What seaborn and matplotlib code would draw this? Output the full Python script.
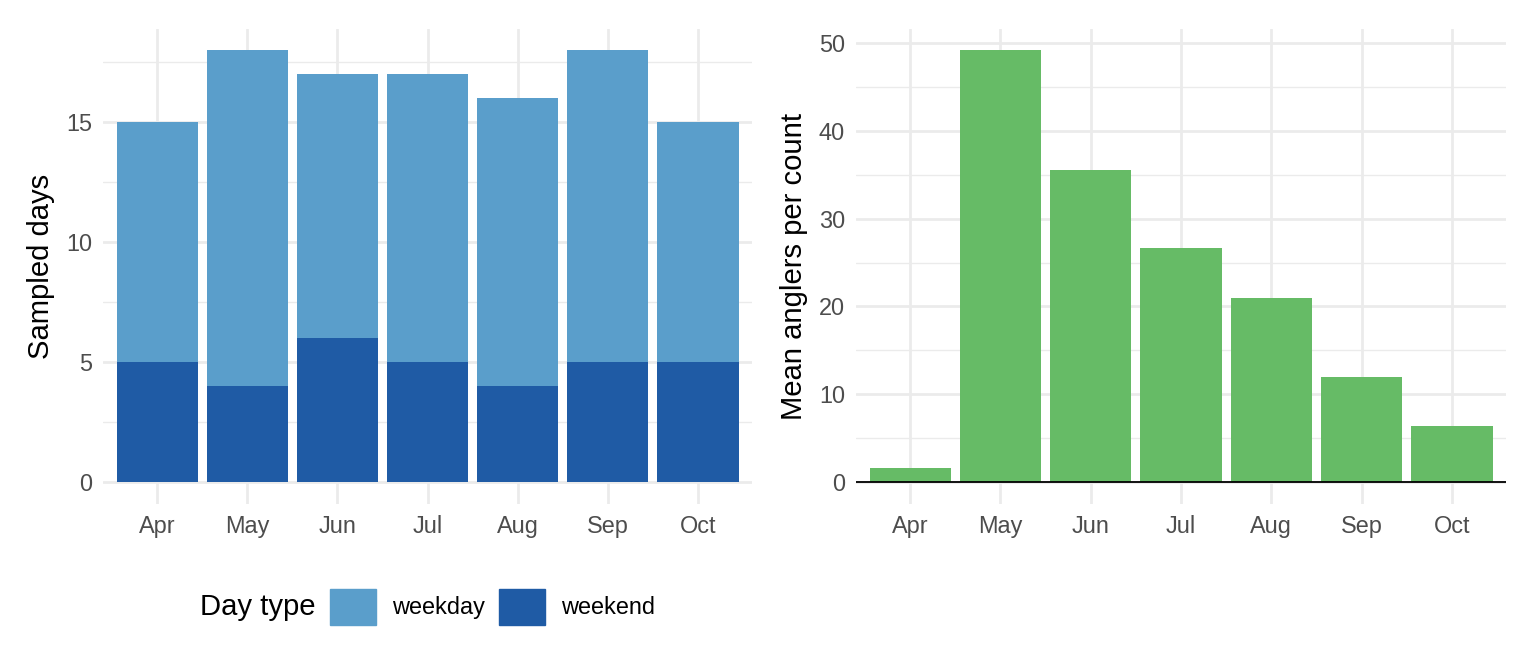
import matplotlib
matplotlib.use("Agg")
import matplotlib.pyplot as plt
import matplotlib.patches as mpatches
from matplotlib.ticker import MultipleLocator
import numpy as np
import pandas as pd
import seaborn as sns

# datos
meses = ["Apr", "May", "Jun", "Jul", "Aug", "Sep", "Oct"]
dias_semana = [10, 14, 11, 12, 12, 13, 10]
dias_finde = [5, 4, 6, 5, 4, 5, 5]
media_pescadores = [1.6, 49.2, 35.5, 26.7, 21.0, 12.0, 6.4]

col_semana = "#5A9ECB"
col_finde = "#1F5BA5"
col_verde = "#66BB66"
gris_txt = "#4D4D4D"
gris_grid = "#EBEBEB"

sns.set_theme(style="white")
plt.rcParams["font.family"] = ["Liberation Sans", "DejaVu Sans"]
plt.rcParams["text.color"] = "black"
plt.rcParams["axes.labelcolor"] = "black"

df = pd.DataFrame({
    "mes": meses,
    "weekday": dias_semana,
    "weekend": dias_finde,
    "angl": media_pescadores,
})
df["total"] = df["weekday"] + df["weekend"]

fig = plt.figure(figsize=(15.36, 6.72), dpi=100)
ax1 = fig.add_axes([0.0671, 0.2507, 0.4225, 0.7068])
ax2 = fig.add_axes([0.5573, 0.2507, 0.4232, 0.7068])


def estilo(ax, ymax, mayor, menor):
    ax.set_xlim(-0.6, 6.6)
    ax.set_ylim(-0.05 * ymax, 1.05 * ymax)
    ax.yaxis.set_major_locator(MultipleLocator(mayor))
    ax.yaxis.set_minor_locator(MultipleLocator(menor))
    ax.grid(True, which="major", color=gris_grid, linewidth=2.0, zorder=0)
    ax.grid(True, which="minor", axis="y", color=gris_grid, linewidth=1.0, zorder=0)
    ax.set_axisbelow(True)
    for s in ax.spines.values():
        s.set_visible(False)
    ax.tick_params(axis="both", which="both", length=0, labelsize=16.9,
                   labelcolor=gris_txt, pad=8)
    ax.set_xlabel("")


# panel izquierdo: barras apiladas
sns.barplot(data=df, x="mes", y="total", color=col_semana, width=0.9,
            saturation=1, linewidth=0, ax=ax1, zorder=2)
sns.barplot(data=df, x="mes", y="weekend", color=col_finde, width=0.9,
            saturation=1, linewidth=0, ax=ax1, zorder=3)
estilo(ax1, df["total"].max(), 5, 2.5)
ax1.set_ylabel("Sampled days", fontsize=21.1, labelpad=8)

# panel derecho
sns.barplot(data=df, x="mes", y="angl", color=col_verde, width=0.9,
            saturation=1, linewidth=0, ax=ax2, zorder=2)
estilo(ax2, df["angl"].max(), 10, 5)
ax2.axhline(0, color="black", linewidth=1.3, zorder=4)
ax2.set_ylabel("Mean anglers per count", fontsize=21.1, labelpad=8)

# leyenda
fig.text(0.130, 0.097, "Day type", fontsize=21.1, va="center", ha="left")
handles = [mpatches.Patch(color=col_semana, label="weekday"),
           mpatches.Patch(color=col_finde, label="weekend")]
fig.legend(handles=handles, loc="center left", bbox_to_anchor=(0.2148, 0.097),
           ncol=2, frameon=False, fontsize=16.9, handlelength=1.96,
           handleheight=1.96, handletextpad=0.68, columnspacing=0.6,
           borderaxespad=0, borderpad=0)

fig.savefig("out.png", dpi=100)
plt.close(fig)
